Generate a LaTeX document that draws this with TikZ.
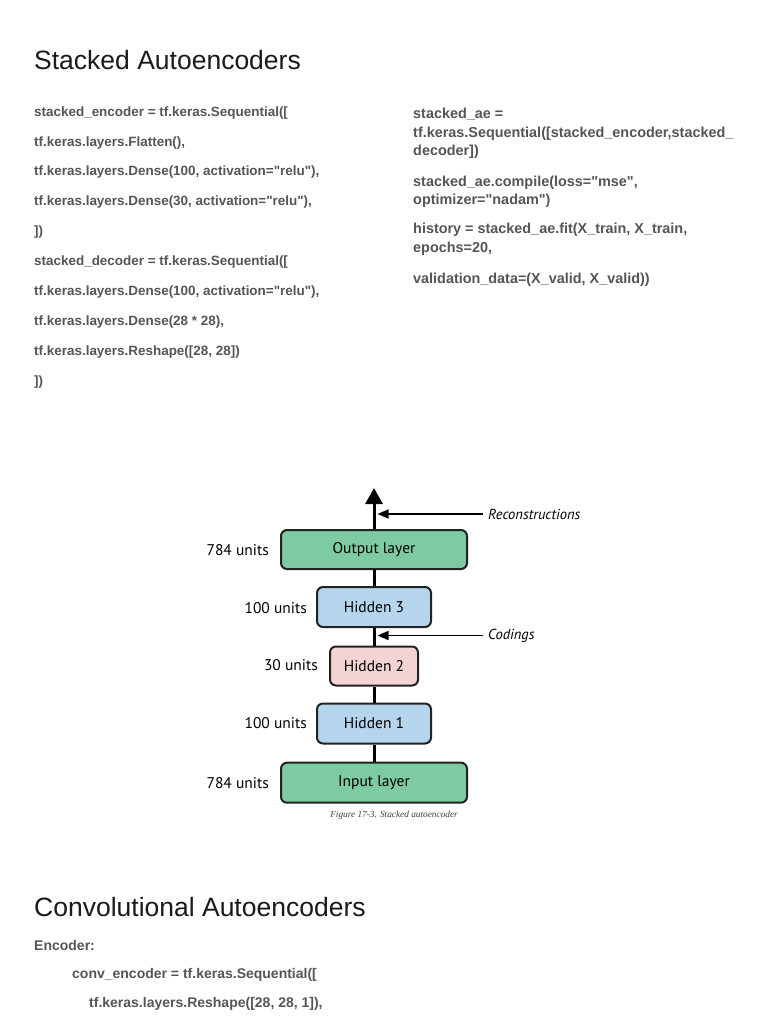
\documentclass[tikz,border=0pt]{standalone}
\usepackage{fontspec}
\setmainfont{Liberation Sans}[Ligatures=TeXOff]
\newfontfamily\diagfont{PT Sans}
\newfontfamily\capfont{Liberation Serif}
\usetikzlibrary{arrows.meta}
\definecolor{codegray}{HTML}{555555}
\definecolor{titleblack}{HTML}{1A1A1A}
\definecolor{boxgreen}{HTML}{7ECBA1}
\definecolor{boxblue}{HTML}{B4D5EC}
\definecolor{boxpink}{HTML}{F4D3D4}
\definecolor{boxline}{HTML}{222222}
\tikzset{
  titletext/.style={anchor=west, inner sep=0pt, text height=19pt, text depth=0pt, font=\fontsize{26.5}{30}\selectfont, text=titleblack},
  code/.style={anchor=west, inner sep=0pt, text height=9.6pt, text depth=0pt, font=\fontsize{13.45}{15}\selectfont\bfseries, text=codegray},
  codewide/.style={code, text height=10.3pt, font=\fontsize{14.4}{16}\selectfont\bfseries},
  codemid/.style={code, text height=10pt, font=\fontsize{14}{16}\selectfont\bfseries},
  layer/.style={draw=boxline, line width=2pt, rounded corners=6pt, inner sep=0pt, font=\diagfont\fontsize{15.5}{18}\selectfont, text=black},
  units/.style={anchor=east, inner sep=0pt, font=\diagfont\fontsize{15.5}{18}\selectfont, text=black},
  note/.style={anchor=west, inner xsep=5pt, inner ysep=0pt, font=\diagfont\itshape\fontsize{14.5}{17}\selectfont, text=black},
  stem/.style={line width=3pt, draw=black},
  pointer/.style={line width=1.6pt, draw=black, -{Triangle[length=11pt,width=9pt]}},
}
\begin{document}
\begin{tikzpicture}[x=1pt,y=-1pt]
\useasboundingbox (0,0) rectangle (768,1024);
\fill[white] (0,0) rectangle (768,1024);

% Title
\node[titletext] (t1) at (34,60) {Stacked Autoencoders};

% Left code column
\node[code] (l1) at (34,111.5) {stacked\_encoder = tf.keras.Sequential([};
\node[code] (l2) at (34,141.5) {tf.keras.layers.Flatten(),};
\node[code] (l3) at (34,171) {tf.keras.layers.Dense(100, activation="relu"),};
\node[code] (l4) at (34,200.5) {tf.keras.layers.Dense(30, activation="relu"),};
\node[code] (l5) at (34,230.5) {])};
\node[code] (l6) at (34,260.5) {stacked\_decoder = tf.keras.Sequential([};
\node[code] (l7) at (34,290.5) {tf.keras.layers.Dense(100, activation="relu"),};
\node[code] (l8) at (34,320.5) {tf.keras.layers.Dense(28 * 28),};
\node[code] (l9) at (34,350.5) {tf.keras.layers.Reshape([28, 28])};
\node[code] (l10) at (34,380.5) {])};

% Right code column
\node[codewide] (r1) at (413,113.5) {stacked\_ae =};
\node[codewide] (r2) at (413,132) {tf.keras.Sequential([stacked\_encoder,stacked\_};
\node[codewide] (r3) at (413,150.5) {decoder])};
\node[codewide] (r4) at (413,181.5) {stacked\_ae.compile(loss="mse",};
\node[codewide] (r5) at (413,199.5) {optimizer="nadam")};
\node[codewide] (r6) at (413,228.5) {history = stacked\_ae.fit(X\_train, X\_train,};
\node[codewide] (r7) at (413,247) {epochs=20,};
\node[codewide] (r8) at (413,278.5) {validation\_data=(X\_valid, X\_valid))};

% Diagram
\node[layer, fill=boxgreen, minimum width=186pt, minimum height=39pt] (out) at (374,549.5) {Output layer};
\node[layer, fill=boxblue, minimum width=114pt, minimum height=40pt] (h3) at (374,607) {Hidden 3};
\node[layer, fill=boxpink, minimum width=88pt, minimum height=39pt] (h2) at (374,666) {Hidden 2};
\node[layer, fill=boxblue, minimum width=114pt, minimum height=40pt] (h1) at (374,723.5) {Hidden 1};
\node[layer, fill=boxgreen, minimum width=186pt, minimum height=40pt] (in) at (374,782.7) {Input layer};

\node[units] (u5) at (269,550) {784 units};
\node[units] (u4) at (307,608) {100 units};
\node[units] (u3) at (318,665) {30 units};
\node[units] (u2) at (307,723) {100 units};
\node[units] (u1) at (269,783) {784 units};

\coordinate (top) at (374,488);
\draw[stem] (in.north) -- (h1.south);
\draw[stem] (h1.north) -- (h2.south);
\draw[stem] (h2.north) -- (h3.south);
\draw[stem] (h3.north) -- (out.south);
\draw[stem, -{Triangle[length=16pt,width=17pt]}] (out.north) -- (top);

\node[note] (rec) at (483,514) {Reconstructions};
\node[note] (cod) at (483,635.5) {Codings};
\coordinate (recend) at (377.5,514);
\coordinate (codend) at (377.5,635.5);
\draw[pointer] (rec.west) -- (recend);
\draw[pointer] (cod.west) -- (codend);

\node[anchor=center, inner sep=0pt, font=\capfont\itshape\fontsize{9.3}{11}\selectfont, text=black!75] (cap) at (394,815) {Figure 17-3. Stacked autoencoder};

% Bottom section
\node[titletext] (t2) at (34,907) {Convolutional Autoencoders};
\node[codemid] (b1) at (34,945.5) {Encoder:};
\node[codemid] (b2) at (72,973.5) {conv\_encoder = tf.keras.Sequential([};
\node[codemid] (b3) at (89,1002) {tf.keras.layers.Reshape([28, 28, 1]),};
\end{tikzpicture}
\end{document}
